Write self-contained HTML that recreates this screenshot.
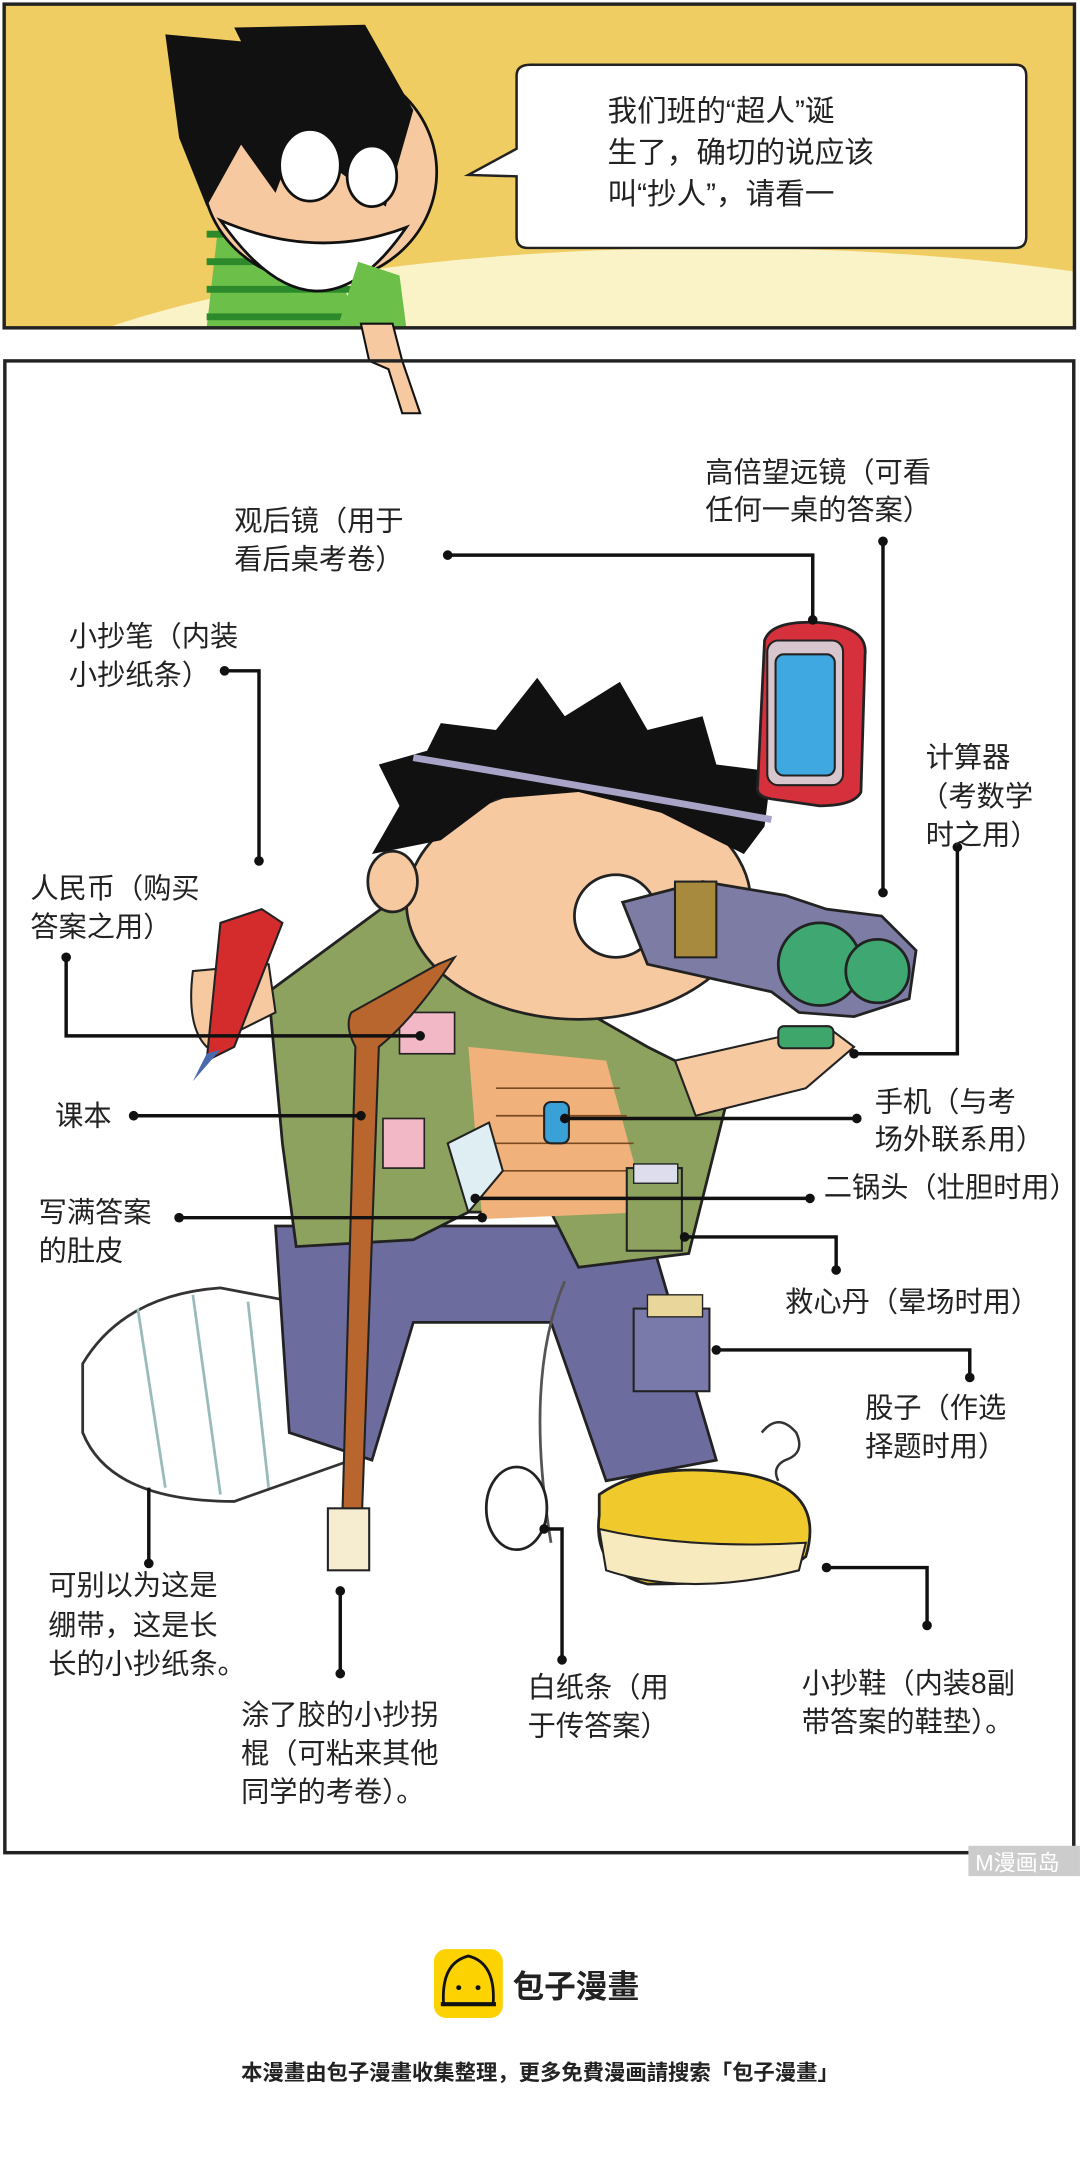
<!DOCTYPE html>
<html><head><meta charset="utf-8"><style>
html,body{margin:0;padding:0;background:#fff;width:1080px;height:2164px;overflow:hidden}
svg{display:block}
text{font-family:"Liberation Sans","Noto Sans CJK SC",sans-serif;fill:#222}
</style></head><body>
<svg width="1080" height="2164" viewBox="0 0 784 1571" xmlns="http://www.w3.org/2000/svg">
<defs><clipPath id="p1"><rect x="3" y="3" width="777" height="235"/></clipPath></defs>
<!-- top panel -->
<g clip-path="url(#p1)">
<rect x="3" y="3" width="777" height="235" fill="#efcd62"/>
<ellipse cx="520" cy="330" rx="560" ry="150" fill="#fbf3c8"/>
<!-- kid -->
<path d="M150 238 L160 150 L230 150 L260 238 Z" fill="#6cc04a"/>
<g stroke="#2d8a2a" stroke-width="5"><line x1="150" y1="170" x2="260" y2="170"/><line x1="150" y1="190" x2="260" y2="190"/><line x1="150" y1="210" x2="260" y2="210"/><line x1="150" y1="230" x2="260" y2="230"/></g>
<ellipse cx="232" cy="125" rx="85" ry="80" fill="#f6c9a0" stroke="#111" stroke-width="2"/>
<path d="M120 25 L175 30 L170 20 L265 18 L300 80 L280 150 L240 120 L215 100 L200 140 L175 105 L150 150 L130 100 Z" fill="#111"/>
<ellipse cx="225" cy="120" rx="22" ry="26" fill="#fff" stroke="#111" stroke-width="2"/>
<ellipse cx="270" cy="128" rx="18" ry="22" fill="#fff" stroke="#111" stroke-width="2"/>
<path d="M160 160 Q230 260 295 165 Q230 190 160 160 Z" fill="#fff" stroke="#111" stroke-width="2"/>
<path d="M245 238 L260 190 L290 200 L295 238 Z" fill="#6cc04a"/>
</g>
<rect x="3" y="3" width="777" height="235" fill="none" stroke="#222" stroke-width="2.5"/>
<!-- arm over panels -->
<path d="M262 235 L285 235 L292 262 L305 300 L292 300 L282 268 L268 262 Z" fill="#f6c9a0" stroke="#111" stroke-width="1.5"/>
<!-- bubble -->
<path d="M385 47 H737 Q745 47 745 55 V172 Q745 180 737 180 H383 Q375 180 375 172 V128 L340 127 L375 108 V55 Q375 47 385 47 Z" fill="#fff" stroke="#222" stroke-width="1.8"/>
<g font-size="21.5">
<text x="441" y="88">我们班的“超人”诞</text>
<text x="441" y="118">生了，确切的说应该</text>
<text x="441" y="148">叫“抄人”，请看一</text>
</g>
<!-- second panel -->
<rect x="3.5" y="262" width="776" height="1083" fill="none" stroke="#222" stroke-width="2.5"/>
<!-- character drawing -->
<!-- cast -->
<path d="M60 990 Q90 940 160 935 L240 950 L255 1060 L170 1090 Q80 1090 60 1040 Z" fill="#fff" stroke="#333" stroke-width="2"/>
<g stroke="#9bb" stroke-width="2" fill="none"><path d="M100 950 L120 1080"/><path d="M140 940 L160 1085"/><path d="M180 945 L195 1080"/></g>
<!-- pants -->
<path d="M200 890 L470 890 L520 1060 L440 1075 L400 960 L300 960 L270 1060 L210 1040 Z" fill="#6d6c9f" stroke="#222" stroke-width="2"/>
<!-- shoe -->
<path d="M435 1085 Q470 1060 540 1070 Q600 1080 585 1130 Q560 1150 470 1150 Q430 1140 435 1100 Z" fill="#f0ca2c" stroke="#222" stroke-width="2"/>
<path d="M435 1110 Q500 1125 585 1120 L580 1140 Q500 1160 440 1140 Z" fill="#f7eabf" stroke="#222" stroke-width="1.5"/>
<!-- paper roll -->
<path d="M410 930 Q380 1000 400 1120" stroke="#555" stroke-width="2" fill="none"/>
<ellipse cx="375" cy="1095" rx="22" ry="30" fill="#fff" stroke="#222" stroke-width="2"/>
<!-- jacket -->
<path d="M195 720 L290 650 L345 690 L400 720 L470 760 L530 790 L500 910 L420 920 L400 880 L340 880 L300 900 L215 905 L205 830 Z" fill="#8da25e" stroke="#222" stroke-width="2"/>
<path d="M340 760 L440 770 L470 880 L350 885 Z" fill="#f0b27a"/>
<g stroke="#7a4a20" stroke-width="1.2"><line x1="360" y1="790" x2="450" y2="790"/><line x1="360" y1="810" x2="455" y2="810"/><line x1="355" y1="830" x2="460" y2="830"/><line x1="355" y1="850" x2="462" y2="850"/><line x1="355" y1="870" x2="465" y2="870"/></g>
<rect x="395" y="800" width="18" height="30" rx="5" fill="#3aa0d8" stroke="#222" stroke-width="1.5"/>
<path d="M325 830 L355 815 L365 850 L340 880 Z" fill="#dfeef2" stroke="#222" stroke-width="1.5"/>
<rect x="455" y="848" width="40" height="60" fill="#8da25e" stroke="#222" stroke-width="1.5"/>
<rect x="460" y="845" width="32" height="14" fill="#dde" stroke="#222" stroke-width="1"/>
<rect x="460" y="950" width="55" height="60" fill="#7a7aaa" stroke="#222" stroke-width="1.5"/>
<rect x="470" y="940" width="40" height="16" fill="#e8d69a" stroke="#222" stroke-width="1"/>
<!-- arm right -->
<path d="M490 770 L600 745 L620 760 L585 790 L505 810 Z" fill="#f6c9a0" stroke="#222" stroke-width="1.5"/>
<rect x="565" y="745" width="40" height="16" rx="4" fill="#3ea66a" stroke="#222" stroke-width="1.5"/>
<!-- face -->
<ellipse cx="420" cy="655" rx="125" ry="85" fill="#f6c9a0" stroke="#222" stroke-width="2"/>
<ellipse cx="285" cy="640" rx="18" ry="22" fill="#f6c9a0" stroke="#222" stroke-width="2"/>
<!-- hair -->
<path d="M270 620 L290 585 L275 555 L310 545 L320 525 L360 530 L390 492 L410 520 L450 495 L470 530 L510 520 L520 555 L560 560 L555 600 L540 620 L480 590 L420 575 L360 580 L320 610 Z" fill="#111"/>
<path d="M300 550 Q420 570 560 595" stroke="#a8a4c8" stroke-width="5" fill="none"/>
<!-- eye -->
<ellipse cx="447" cy="665" rx="30" ry="30" fill="#fff" stroke="#222" stroke-width="2"/>
<!-- binoculars -->
<path d="M452 655 L510 640 L570 650 L600 660 L640 665 L665 690 L660 725 L620 738 L580 735 L560 720 L470 700 Z" fill="#7c7ca4" stroke="#222" stroke-width="2"/>
<rect x="490" y="640" width="30" height="55" fill="#a88a3e" stroke="#222" stroke-width="1.5"/>
<circle cx="595" cy="700" r="30" fill="#3fa872" stroke="#222" stroke-width="2"/>
<circle cx="637" cy="705" r="23" fill="#3fa872" stroke="#222" stroke-width="2"/>
<!-- mirror -->
<path d="M555 465 Q560 450 595 452 Q630 455 628 475 L625 575 Q620 585 595 585 L560 580 Q548 578 550 570 Z" fill="#d6303c" stroke="#222" stroke-width="2"/>
<rect x="557" y="465" width="55" height="105" rx="8" fill="#d8c6ce" stroke="#222" stroke-width="1.5"/>
<rect x="563" y="475" width="43" height="88" rx="6" fill="#3fa8e0" stroke="#222" stroke-width="1.5"/>
<!-- pen & hand -->
<path d="M140 705 Q135 745 150 760 L200 735 L195 700 Z" fill="#f6c9a0" stroke="#222" stroke-width="1.5"/>
<path d="M160 670 L190 660 L205 670 L170 760 L150 770 Z" fill="#d42c2c" stroke="#222" stroke-width="1.5"/>
<path d="M150 765 L160 762 L140 785 Z" fill="#4a6ab0"/>
<!-- pocket items -->
<rect x="290" y="735" width="40" height="30" fill="#f3b8c6" stroke="#222" stroke-width="1.2"/>
<rect x="278" y="812" width="30" height="36" fill="#f3b8c6" stroke="#222" stroke-width="1.2"/>
<!-- cane -->
<path d="M318 700 L330 695 Q300 740 275 760 L262 1120 L248 1120 L258 760 Q250 745 255 735 Z" fill="#b8652e" stroke="#222" stroke-width="1.5"/>
<rect x="238" y="1095" width="30" height="45" fill="#f6ecd0" stroke="#222" stroke-width="1.5"/>
<!-- question mark -->
<path d="M553 1040 Q565 1025 578 1040 Q585 1055 570 1060 Q560 1065 565 1075" stroke="#333" stroke-width="1.8" fill="none"/>

<!-- connectors -->
<g stroke="#111" stroke-width="2.5" fill="none">
<polyline points="325,403 590,403 590,450"/>
<polyline points="641,393 641,648"/>
<polyline points="163,487 188,487 188,625"/>
<polyline points="695,615 695,765 620,765"/>
<polyline points="48,695 48,752 305,752"/>
<line x1="97" y1="810" x2="262" y2="810"/>
<line x1="622" y1="812" x2="410" y2="812"/>
<line x1="130" y1="884" x2="350" y2="884"/>
<line x1="588" y1="870" x2="345" y2="870"/>
<polyline points="497,898 607,898 607,922"/>
<polyline points="520,980 704,980 704,1000"/>
<line x1="108" y1="1080" x2="108" y2="1135"/>
<line x1="247" y1="1155" x2="247" y2="1215"/>
<polyline points="395,1110 408,1110 408,1205"/>
<polyline points="600,1138 673,1138 673,1180"/>
</g>
<g fill="#111">
<circle cx="325" cy="403" r="3.5"/><circle cx="590" cy="450" r="3.5"/><circle cx="641" cy="393" r="3.5"/><circle cx="641" cy="648" r="3.5"/>
<circle cx="163" cy="487" r="3.5"/><circle cx="188" cy="625" r="3.5"/><circle cx="695" cy="615" r="3.5"/><circle cx="620" cy="765" r="3.5"/>
<circle cx="48" cy="695" r="3.5"/><circle cx="305" cy="752" r="3.5"/><circle cx="97" cy="810" r="3.5"/><circle cx="262" cy="810" r="3.5"/>
<circle cx="622" cy="812" r="3.5"/><circle cx="410" cy="812" r="3.5"/><circle cx="130" cy="884" r="3.5"/><circle cx="350" cy="884" r="3.5"/>
<circle cx="588" cy="870" r="3.5"/><circle cx="345" cy="870" r="3.5"/><circle cx="497" cy="898" r="3.5"/><circle cx="607" cy="922" r="3.5"/>
<circle cx="520" cy="980" r="3.5"/><circle cx="704" cy="1000" r="3.5"/><circle cx="108" cy="1135" r="3.5"/><circle cx="247" cy="1155" r="3.5"/>
<circle cx="247" cy="1215" r="3.5"/><circle cx="395" cy="1110" r="3.5"/><circle cx="408" cy="1205" r="3.5"/><circle cx="600" cy="1138" r="3.5"/><circle cx="673" cy="1180" r="3.5"/>
</g>

<!-- labels -->
<g font-size="20.5">
<text x="512" y="350">高倍望远镜（可看</text>
<text x="512" y="377">任何一桌的答案）</text>
<text x="170" y="385">观后镜（用于</text>
<text x="170" y="413">看后桌考卷）</text>
<text x="50" y="469">小抄笔（内装</text>
<text x="50" y="497">小抄纸条）</text>
<text x="672" y="557">计算器</text>
<text x="668" y="585">（考数学</text>
<text x="672" y="613">时之用）</text>
<text x="22" y="652">人民币（购买</text>
<text x="22" y="680">答案之用）</text>
<text x="40" y="817">课本</text>
<text x="635" y="807">手机（与考</text>
<text x="635" y="834">场外联系用）</text>
<text x="598" y="869">二锅头（壮胆时用）</text>
<text x="28" y="887">写满答案</text>
<text x="28" y="915">的肚皮</text>
<text x="570" y="952">救心丹（晕场时用）</text>
<text x="628" y="1029">股子（作选</text>
<text x="628" y="1057">择题时用）</text>
<text x="35" y="1158">可别以为这是</text>
<text x="35" y="1187">绷带，这是长</text>
<text x="35" y="1215">长的小抄纸条。</text>
<text x="383" y="1232">白纸条（用</text>
<text x="383" y="1260">于传答案）</text>
<text x="582" y="1229">小抄鞋（内装8副</text>
<text x="582" y="1257">带答案的鞋垫）。</text>
<text x="175" y="1252">涂了胶的小抄拐</text>
<text x="175" y="1280">棍（可粘来其他</text>
<text x="175" y="1308">同学的考卷）。</text>
</g>
<!-- watermark -->
<rect x="703" y="1340" width="81" height="22" fill="#ccc"/>
<text x="708" y="1358" font-size="16" fill="#fff" style="fill:#fff">M漫画岛</text>
<!-- footer logo -->
<rect x="315" y="1415" width="50" height="50" rx="9" fill="#fcd200"/>
<path d="M322 1455 Q320 1425 340 1420 Q360 1425 358 1455 Z" fill="#fcd200" stroke="#111" stroke-width="2"/>
<path d="M320 1455 H360" stroke="#111" stroke-width="3"/>
<circle cx="333" cy="1443" r="1.8" fill="#111"/><circle cx="347" cy="1443" r="1.8" fill="#111"/>
<text x="372" y="1450" font-size="23" font-weight="bold">包子漫畫</text>
<text x="392" y="1510" font-size="15.5" font-weight="bold" text-anchor="middle">本漫畫由包子漫畫收集整理，更多免費漫画請搜索「包子漫畫」</text>
</svg>
</body></html>
